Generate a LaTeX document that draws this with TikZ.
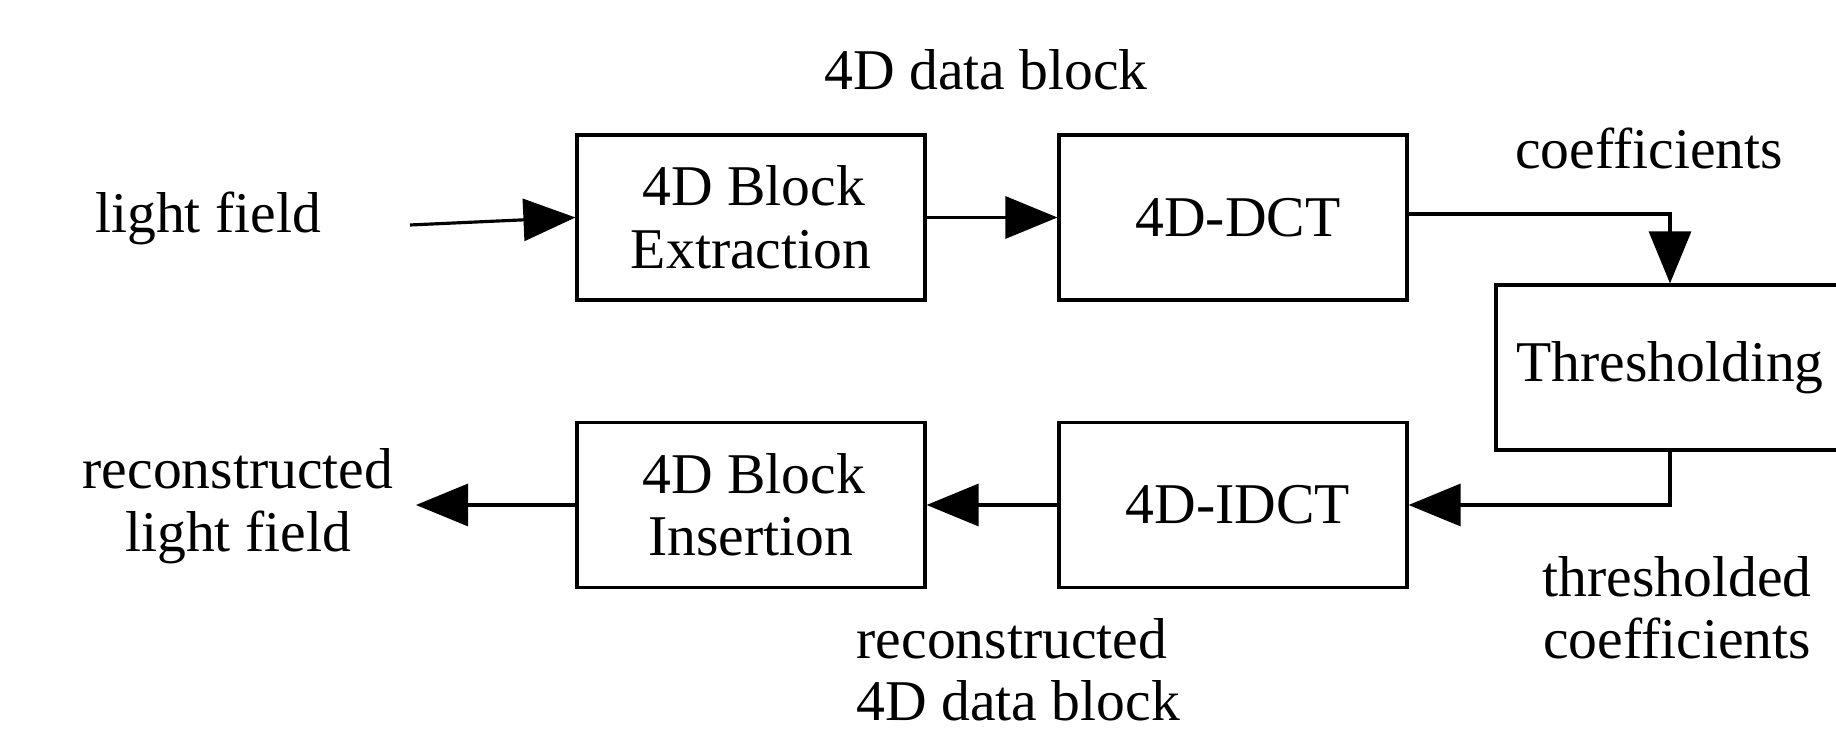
\documentclass[tikz,border=0pt]{standalone}
\usepackage{fontspec}
\setmainfont{Liberation Serif}
\usetikzlibrary{arrows.meta,positioning}
\tikzset{
  blockbox/.style={draw, line width=0.9pt, minimum width=3.48cm, minimum height=1.65cm, inner sep=0pt, align=center, font=\fontsize{16.4}{17.8}\selectfont},
  lbl/.style={inner sep=0pt, align=center, font=\fontsize{16.4}{17.8}\selectfont},
  flow/.style={line width=0.9pt, -{Triangle[length=5.2mm, width=4.2mm]}}
}
\begin{document}
\begin{tikzpicture}
\useasboundingbox (0,0) rectangle (18.36,7.31);
% boxes
\node[blockbox] (ext) at (7.51,5.135) {\hspace*{0.6mm}4D Block\\Extraction};
\node[blockbox] (dct) at (12.33,5.135) {\hspace*{1mm}4D-DCT};
\node[blockbox] (thr) at (16.70,3.635) {Thresholding};
\node[blockbox] (ins) at (7.51,2.26) {\hspace*{0.6mm}4D Block\\Insertion};
\node[blockbox] (idct) at (12.33,2.26) {\hspace*{1mm}4D-IDCT};
% labels
\node[lbl] (lf) at (2.08,5.13) {light field};
\node[lbl] (db) at (9.86,6.61) {4D data block};
\node[lbl] (co) at (16.49,5.82) {coefficients};
\node[lbl] (rlf) at (2.38,2.25) {reconstructed\\light field};
\node[lbl] (tc) at (16.77,1.23) {thresholded\\coefficients};
\node[lbl, anchor=west, align=left] (rdb) at (8.56,0.61) {reconstructed\\4D data block};
% connectors
\coordinate (lfin) at (4.10,5.06);
\coordinate (lfout) at (4.16,2.26);
\draw[flow] (lfin) -- (ext.west);
\draw[flow] (ext.east) -- (dct.west);
\draw[flow] ([yshift=0.35mm]dct.east) -| (thr.north);
\draw[flow] (thr.south) |- (idct.east);
\draw[flow] (idct.west) -- (ins.east);
\draw[flow] (ins.west) -- (lfout);
\end{tikzpicture}
\end{document}
